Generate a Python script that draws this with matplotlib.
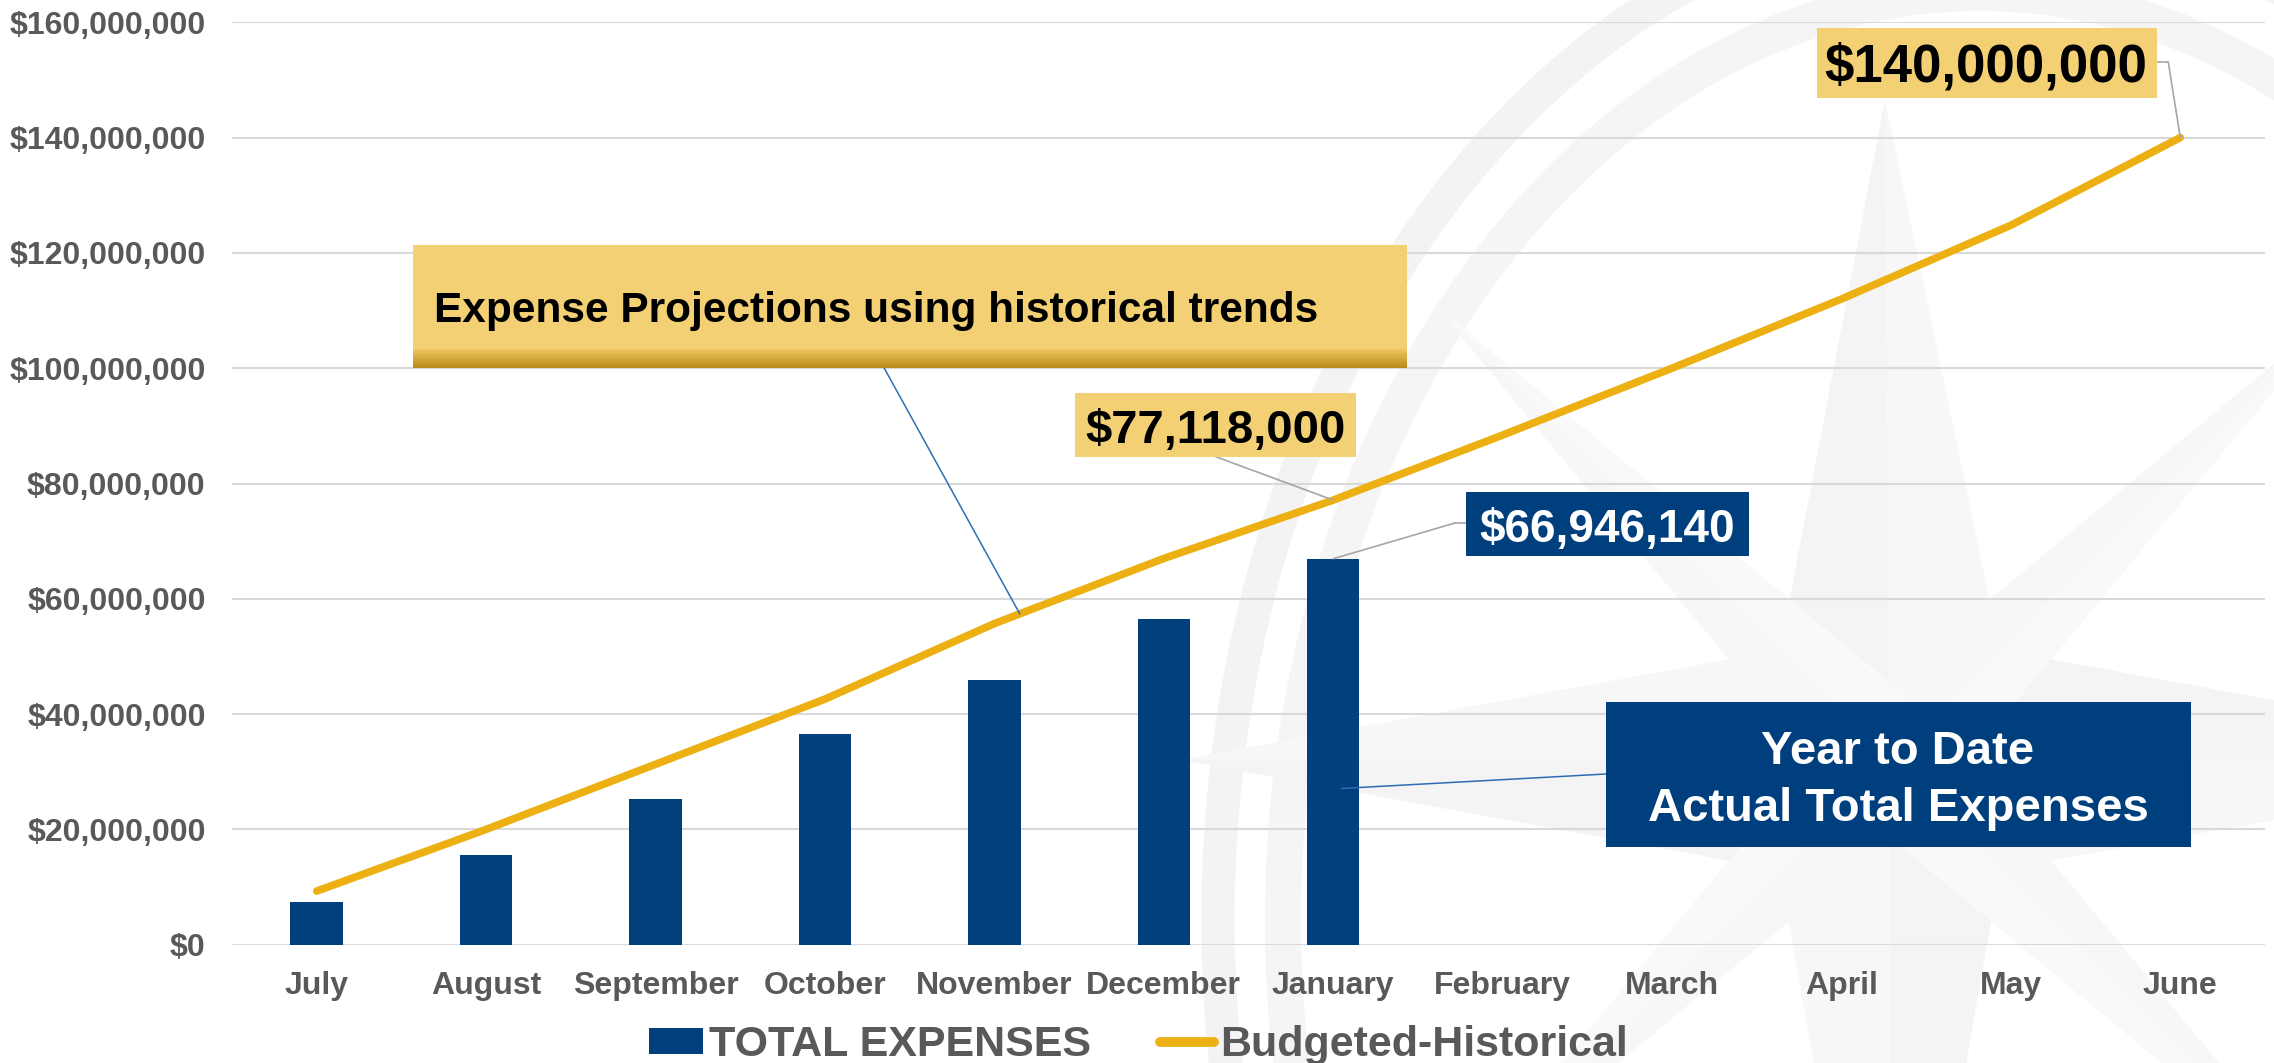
import numpy as np
import matplotlib
matplotlib.use("Agg")
import matplotlib.pyplot as plt
from matplotlib.patches import Rectangle, Ellipse, Polygon, ConnectionPatch
from matplotlib.ticker import FuncFormatter, FixedLocator
from matplotlib.colors import to_rgb

# ---------------- data ----------------
months = ["July", "August", "September", "October", "November", "December",
          "January", "February", "March", "April", "May", "June"]
total_expenses = [7.4e6, 15.5e6, 25.3e6, 36.6e6, 45.9e6, 56.5e6, 66946140]
budgeted_historical = [9.3e6, 20.0e6, 31.3e6, 42.6e6, 55.7e6, 67.0e6, 77118000,
                       88.4e6, 100.0e6, 112.0e6, 124.8e6, 140.0e6]
y_ticks = [0, 20e6, 40e6, 60e6, 80e6, 100e6, 120e6, 140e6, 160e6]

label_77 = "$77,118,000"
label_66 = "$66,946,140"
label_140 = "$140,000,000"
note_proj = "Expense Projections using historical trends"
note_ytd = "Year to Date\nActual Total Expenses"

# ---------------- style ----------------
W, H, DPI = 2274, 1063, 100
BAR_C = "#023F7D"
LINE_C = "#EDB012"
YEL = "#F3D074"
NAVY = "#003F7E"
GRAY_T = "#595959"
GRID_C = "#D9D9D9"

plt.rcParams['font.family'] = ['Liberation Sans', 'DejaVu Sans']
plt.rcParams['font.weight'] = 'bold'

fig = plt.figure(figsize=(W / DPI, H / DPI), dpi=DPI)
fig.patch.set_facecolor("white")


def fx(x):
    return x / W


def fy(y):
    return 1 - y / H


# ---------------- watermark (background) ----------------
bg = fig.add_axes([0, 0, 1, 1], zorder=0)
bg.set_xlim(0, W)
bg.set_ylim(H, 0)
bg.axis("off")
cx, cy = 1980, 920
bg.add_patch(Ellipse((cx, cy), 2 * 762, 2 * 1013, fill=False,
                     edgecolor="#F3F3F3", linewidth=24))
bg.add_patch(Ellipse((cx, cy), 2 * 697, 2 * 927, fill=False,
                     edgecolor="#F5F5F5", linewidth=26))
sx, sy, w = 1890, 760, 110
pts = {
    "N": (1885, 100), "E": (2600, 760), "S": (1890, 1500), "W": (1180, 760),
    "NE": (sx + w, sy - w), "SE": (sx + w, sy + w),
    "SW": (sx - w, sy + w), "NW": (sx - w, sy - w),
}
C = (sx, sy)
tris = [
    (["N", "NW"], "#F4F4F4"), (["N", "NE"], "#F7F7F7"),
    (["E", "NE"], "#F4F4F4"), (["E", "SE"], "#F7F7F7"),
    (["S", "SE"], "#F4F4F4"), (["S", "SW"], "#F7F7F7"),
    (["W", "SW"], "#F4F4F4"), (["W", "NW"], "#F7F7F7"),
]
for (a, b), col in tris:
    bg.add_patch(Polygon([pts[a], pts[b], C], closed=True,
                         facecolor=col, edgecolor="none"))
d = 430
for ang in [45, 135, 225, 315]:
    t = np.deg2rad(ang)
    tip = (sx + d * 1.5 * np.cos(t), sy - d * 1.5 * np.sin(t))
    p1 = (sx + 60 * np.cos(t + np.pi / 2), sy - 60 * np.sin(t + np.pi / 2))
    p2 = (sx + 60 * np.cos(t - np.pi / 2), sy - 60 * np.sin(t - np.pi / 2))
    bg.add_patch(Polygon([tip, p1, C], closed=True, facecolor="#F7F7F7",
                         edgecolor="none"))
    bg.add_patch(Polygon([tip, p2, C], closed=True, facecolor="#F9F9F9",
                         edgecolor="none"))

# ---------------- main axes ----------------
ax_l, ax_r, ax_t, ax_b = 232, 2265, 22.3, 944.7
ax = fig.add_axes([fx(ax_l), fy(ax_b), (ax_r - ax_l) / W, (ax_b - ax_t) / H],
                  zorder=1)
ax.set_facecolor("none")
x = np.arange(len(months))
ax.set_xlim(-0.5, len(months) - 0.5)
ax.set_ylim(0, 160e6)

ax.yaxis.set_major_locator(FixedLocator(y_ticks))
ax.yaxis.set_major_formatter(FuncFormatter(lambda v, p: f"${v:,.0f}"))
ax.grid(axis="y", color=GRID_C, linewidth=1.5, zorder=0)
ax.set_axisbelow(True)
for s in ax.spines.values():
    s.set_visible(False)
ax.tick_params(axis="both", length=0)
ax.tick_params(axis="y", pad=19, labelsize=23, labelcolor=GRAY_T)
ax.tick_params(axis="x", pad=19, labelsize=23, labelcolor=GRAY_T)
ax.set_xticks(x)
ax.set_xticklabels(months)
for lab in ax.get_xticklabels() + ax.get_yticklabels():
    lab.set_fontweight("bold")

bars = ax.bar(x[:len(total_expenses)], total_expenses, width=0.31,
              color=BAR_C, zorder=2, label="TOTAL EXPENSES")
line, = ax.plot(x, budgeted_historical, color=LINE_C, linewidth=5.5,
                solid_capstyle="round", solid_joinstyle="round", zorder=3,
                label="Budgeted-Historical")

# ---------------- annotation boxes ----------------


def box(x0, y0, x1, y1, color, z=5):
    r = Rectangle((fx(x0), fy(y1)), (x1 - x0) / W, (y1 - y0) / H,
                  transform=fig.transFigure, facecolor=color,
                  edgecolor="none", zorder=z)
    fig.add_artist(r)


def leader(pfig, pdata, color, lw=1.2, z=4):
    cp = ConnectionPatch(xyA=(fx(pfig[0]), fy(pfig[1])), coordsA=fig.transFigure,
                         xyB=pdata, coordsB=ax.transData, color=color,
                         linewidth=lw, zorder=z)
    fig.add_artist(cp)


def seg(p0, p1, color, lw=1.2, z=4):
    fig.add_artist(plt.Line2D([fx(p0[0]), fx(p1[0])], [fy(p0[1]), fy(p1[1])],
                              transform=fig.transFigure, color=color,
                              linewidth=lw, zorder=z))


# Expense projections box with bottom gradient
bx0, by0, bx1, by1 = 413, 245, 1407, 367.7
box(bx0, by0, bx1, by1, YEL)
g0 = 349.0
n = 24
c_top = np.array(to_rgb("#F0C860"))
c_bot = np.array(to_rgb("#B88C1A"))
for i in range(n):
    ya = g0 + (by1 - g0) * i / n
    yb = g0 + (by1 - g0) * (i + 1) / n
    col = c_top + (c_bot - c_top) * ((i + 0.5) / n)
    box(bx0, ya, bx1, yb + 0.3, tuple(col), z=5.1)
fig.text(fx(433.6), fy(321.7), note_proj, fontsize=30.5, fontweight="bold",
         color="black", ha="left", va="baseline", zorder=6)
x_proj = 4.15
leader((884, 367.7), (x_proj, np.interp(x_proj, x, budgeted_historical)),
       "#2E6DB4", lw=1.1)

# $77,118,000 box
box(1075, 393.3, 1355.6, 456.7, YEL)
fig.text(fx(1216), fy(443.3), label_77, fontsize=34, fontweight="bold",
         color="black", ha="center", va="baseline", zorder=6)
leader((1215.7, 456.7), (6, budgeted_historical[6]), "#A6A6A6", lw=1.2)

# $66,946,140 box
box(1465.8, 492.3, 1748.5, 555.7, NAVY)
fig.text(fx(1607), fy(542.3), label_66, fontsize=33, fontweight="bold",
         color="white", ha="center", va="baseline", zorder=6)
seg((1465.8, 523.3), (1454, 523.3), "#A6A6A6")
leader((1454, 523.3), (6, total_expenses[6]), "#A6A6A6", lw=1.2)

# $140,000,000 box
box(1816.8, 28.3, 2157, 97.7, YEL)
fig.text(fx(1986), fy(81.7), label_140, fontsize=38, fontweight="bold",
         color="black", ha="center", va="baseline", zorder=6)
seg((2157, 62.3), (2168.3, 62.3), "#A6A6A6")
leader((2168.3, 62.3), (11, budgeted_historical[11]), "#A6A6A6", lw=1.2)

# Year to date box
box(1606, 702, 2191, 846.7, NAVY)
l1, l2 = note_ytd.split("\n")
fig.text(fx(1898), fy(764), l1, fontsize=34, fontweight="bold",
         color="white", ha="center", va="baseline", zorder=6)
fig.text(fx(1898), fy(820.7), l2, fontsize=34, fontweight="bold",
         color="white", ha="center", va="baseline", zorder=6)
leader((1606, 774), (6.05, 27.1e6), "#2E6DB4", lw=1.1)

# ---------------- legend ----------------
leg = fig.legend(handles=[bars, line], labels=["TOTAL EXPENSES", "Budgeted-Historical"],
                 loc="center", bbox_to_anchor=(fx(1138.5), fy(1045)), ncol=2,
                 frameon=False, handlelength=1.25, handleheight=0.55,
                 handletextpad=0.15, columnspacing=1.6, borderpad=0,
                 borderaxespad=0, labelcolor=GRAY_T,
                 prop={"weight": "bold", "size": 31})
for h in leg.legend_handles:
    if isinstance(h, plt.Line2D):
        h.set_linewidth(7)
        h.set_solid_capstyle("round")

fig.savefig("out.png", dpi=DPI, facecolor="white")
